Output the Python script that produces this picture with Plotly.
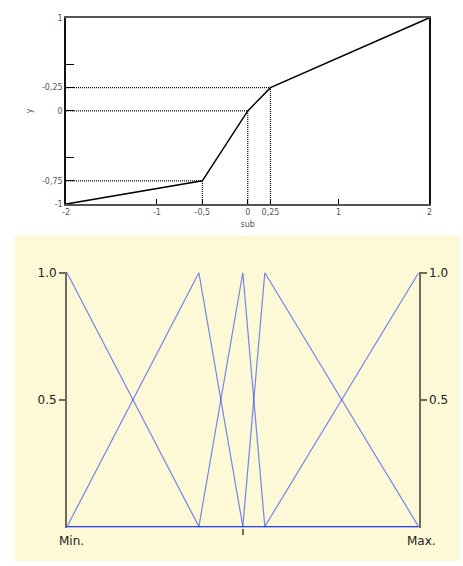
import plotly.graph_objects as go

# breakpoints of the piecewise linear map (top chart)
sub_pts = [-2, -0.5, 0, 0.25, 2]
y_pts = [-1, -0.75, 0, 0.25, 1]

# tick labels as printed in the top chart
x_tickvals = [-2, -1, -0.5, 0, 0.25, 1, 2]
x_ticktext = ['-2', '-1', '-0,5', '0', '0,25', '1', '2']
y_tickvals = [-1, -0.75, -0.5, 0, 0.25, 0.5, 1]
y_ticktext = ['-1', '-0,75', '', '0', '-0,25', '', '1']

# membership functions on the normalised input (bottom chart)
mf_x = [
    [0, 0.375, 1],
    [0, 0.375, 0.5, 1],
    [0, 0.375, 0.5, 0.5625, 1],
    [0, 0.5, 0.5625, 1],
    [0, 0.5625, 1],
]
mf_y = [
    [1, 0, 0],
    [0, 1, 0, 0],
    [0, 0, 1, 0, 0],
    [0, 0, 1, 0],
    [0, 0, 1],
]

W, H = 463, 566


def px(x):
    return x / W


def py(y):
    return 1 - y / H


fig = go.Figure()

# dotted guides from the axes to each inner breakpoint
for sx, sy in zip(sub_pts[1:-1], y_pts[1:-1]):
    fig.add_trace(go.Scatter(x=[-2, sx], y=[sy, sy], mode='lines',
                             line=dict(color='black', width=1.2, dash='1px,1px'),
                             showlegend=False, hoverinfo='skip'))
    fig.add_trace(go.Scatter(x=[sx, sx], y=[-1, sy], mode='lines',
                             line=dict(color='black', width=1.2, dash='1px,1px'),
                             showlegend=False, hoverinfo='skip'))

fig.add_trace(go.Scatter(x=sub_pts, y=y_pts, mode='lines',
                         line=dict(color='black', width=1.5),
                         showlegend=False))

# overlapping zero segments build up the strong blue baseline
for i, (xs, ys) in enumerate(zip(mf_x, mf_y)):
    fig.add_trace(go.Scatter(x=xs, y=ys, mode='lines', xaxis='x2',
                             yaxis='y3' if i == len(mf_x) - 1 else 'y2',
                             line=dict(color='#1a3cf5', width=1.2),
                             opacity=0.6, showlegend=False))

small = dict(family='DejaVu Sans', size=8, color='#555555')
big = dict(family='DejaVu Sans', size=12, color='#222222')
axcol = '#6e6a5c'
yr = [-0.004, 1.004]

fig.update_layout(
    width=W, height=H, autosize=False,
    margin=dict(l=0, r=0, t=0, b=0),
    paper_bgcolor='white',
    plot_bgcolor='rgba(0,0,0,0)',
    xaxis=dict(domain=[px(63), px(432)], anchor='y', range=[-2, 2],
               tickmode='array', tickvals=x_tickvals, ticktext=x_ticktext,
               ticks='inside', ticklen=5, tickcolor='black', tickfont=small,
               showline=True, linecolor='#555555', linewidth=1.5, mirror=True,
               showgrid=False, zeroline=False,
               title=dict(text='sub', font=small, standoff=5)),
    yaxis=dict(domain=[py(202), py(12)], anchor='x', range=[-1, 1],
               tickmode='array', tickvals=y_tickvals, ticktext=y_ticktext,
               ticks='inside', ticklen=8, tickcolor='black', tickfont=small,
               showline=True, linecolor='#111111', linewidth=1.5, mirror=True,
               showgrid=False, zeroline=False,
               title=dict(text='y', font=small, standoff=8)),
    xaxis2=dict(domain=[px(64), px(421)], anchor='y2', range=[0, 1],
                tickmode='array', tickvals=[0.5], ticktext=[''],
                ticks='outside', ticklen=6, tickwidth=2, tickcolor=axcol,
                showline=False, showgrid=False, zeroline=False),
    yaxis2=dict(domain=[py(532), py(271)], anchor='x2', range=yr,
                tickmode='array', tickvals=[0.5, 1], ticktext=['0.5', '1.0'],
                ticks='outside', ticklen=6, tickwidth=1.5, tickcolor=axcol,
                tickfont=big, showline=True, linecolor=axcol, linewidth=2,
                showgrid=False, zeroline=False),
    yaxis3=dict(overlaying='y2', side='right', anchor='x2', range=yr,
                tickmode='array', tickvals=[0.5, 1], ticktext=['0.5', '1.0'],
                ticks='outside', ticklen=6, tickwidth=1.5, tickcolor=axcol,
                tickfont=big, showline=True, linecolor=axcol, linewidth=2,
                showgrid=False, zeroline=False),
    shapes=[dict(type='rect', xref='paper', yref='paper', layer='below',
                 x0=px(11), x1=1, y0=0, y1=py(234),
                 fillcolor='#fdf8d6', line=dict(width=0))],
    annotations=[
        dict(xref='x2', yref='paper', x=0, y=py(546), text='Min.',
             showarrow=False, xanchor='center', yanchor='middle',
             xshift=4, font=big),
        dict(xref='x2', yref='paper', x=1, y=py(546), text='Max.',
             showarrow=False, xanchor='center', yanchor='middle',
             xshift=3, font=big),
    ],
)

# drop the default page margin so the 463x566 figure fills the window
fig.write_html("out.html",
               config={'displayModeBar': False},
               post_script="document.body.style.margin='0';"
                           "document.body.style.overflow='hidden';")
